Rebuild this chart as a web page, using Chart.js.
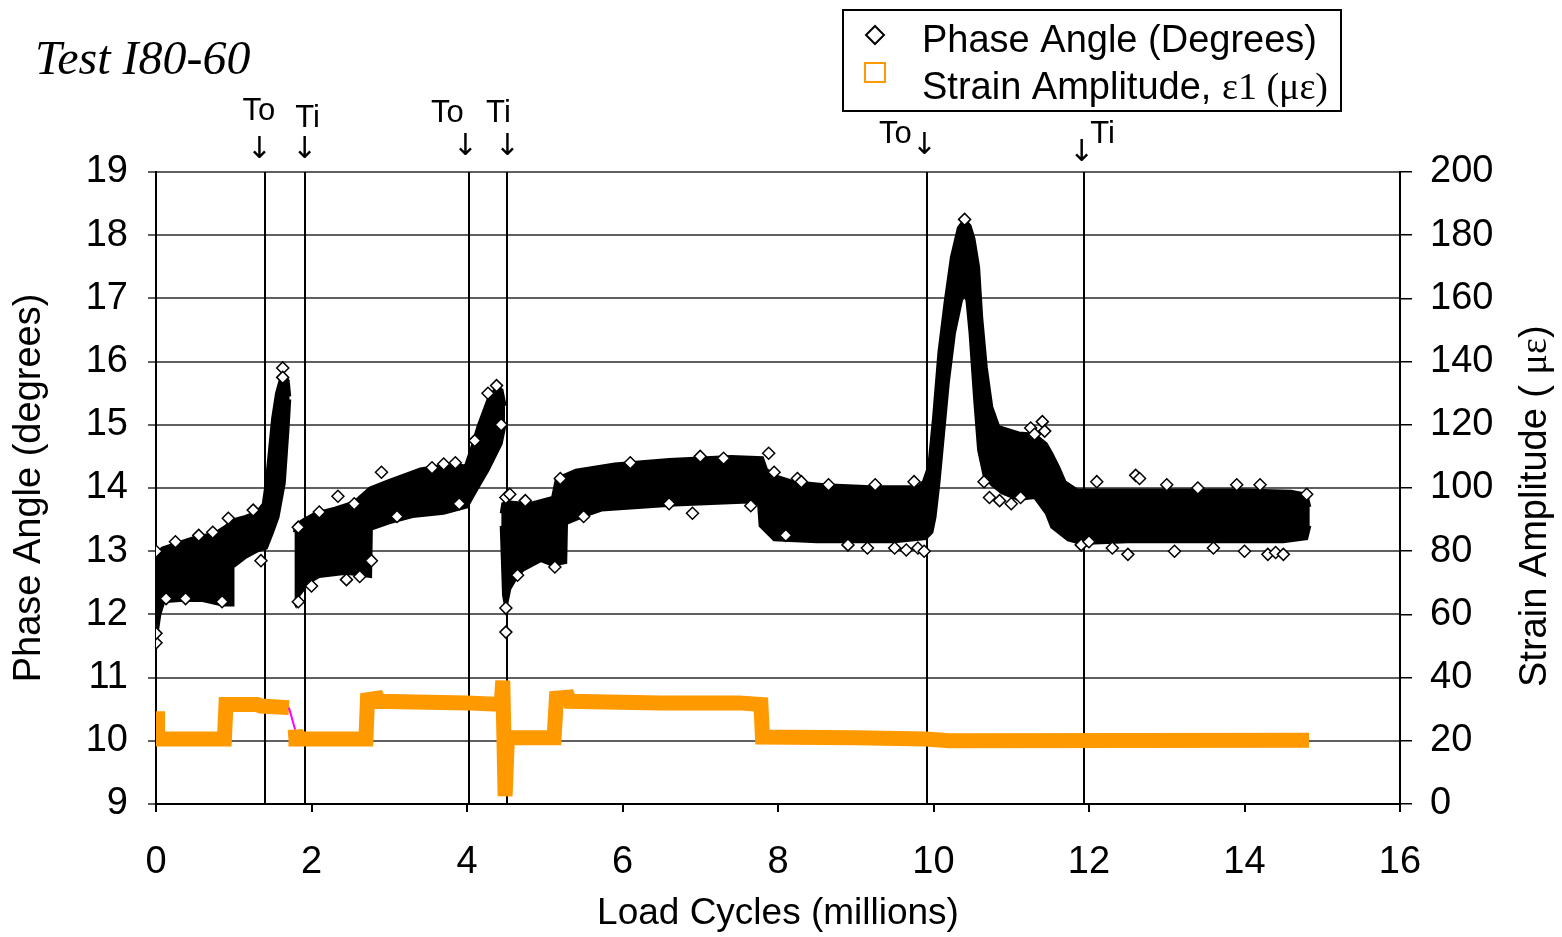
<!DOCTYPE html>
<html><head><meta charset="utf-8">
<script src="https://cdn.jsdelivr.net/npm/chart.js@4.4.1/dist/chart.umd.min.js"></script>
<style>html,body{margin:0;padding:0;background:#fff}#wrap{width:1562px;height:937px;position:relative}canvas{display:block}</style>
</head><body><div id="wrap"><canvas id="c" width="1562" height="937"></canvas></div>
<script>
// ---------- DATA ----------
const xTickValues = [0, 2, 4, 6, 8, 10, 12, 14, 16];
const phaseTickValues = [9, 10, 11, 12, 13, 14, 15, 16, 17, 18, 19];
const strainTickValues = [0, 20, 40, 60, 80, 100, 120, 140, 160, 180, 200];

// Phase angle scatter cloud: upper / lower envelopes of the dense marker band (millions, degrees)
const phaseUpper1 = [[0,12.95],[0.08,13.05],[0.25,13.12],[0.5,13.22],[0.75,13.28],[0.9,13.4],[1.0,13.5],[1.15,13.55],[1.3,13.62],[1.38,13.75],[1.42,14.1],[1.46,14.6],[1.5,15.1],[1.55,15.5],[1.6,15.72],[1.65,15.78],[1.7,15.7],[1.72,15.45]];
const phaseLower1 = [[0,11.6],[0.02,11.75],[0.05,12.0],[0.1,12.2],[0.3,12.22],[0.6,12.22],[0.85,12.15],[0.98,12.15],[0.99,12.75],[1.15,12.9],[1.3,13.0],[1.42,13.05],[1.5,13.3],[1.57,13.54],[1.65,14.08],[1.7,14.97],[1.72,15.4]];
const phaseUpper2 = [[1.78,13.3],[1.8,13.42],[1.9,13.5],[2.05,13.6],[2.3,13.68],[2.55,13.78],[2.75,14.0],[3.0,14.12],[3.4,14.3],[3.8,14.38],[3.98,14.35],[4.05,14.6],[4.14,14.97],[4.27,15.4],[4.38,15.6],[4.45,15.55],[4.49,15.3]];
const phaseLower2 = [[1.78,12.2],[1.8,12.15],[1.84,12.3],[1.96,12.5],[2.1,12.6],[2.45,12.65],[2.76,12.6],[2.77,13.35],[3.0,13.45],[3.3,13.55],[3.7,13.6],[4.0,13.7],[4.1,13.92],[4.27,14.28],[4.44,14.7],[4.49,15.0]];
const phaseUpper3 = [[4.44,13.6],[4.46,13.75],[4.55,13.78],[4.8,13.75],[5.1,13.85],[5.15,14.15],[5.4,14.28],[5.9,14.38],[6.6,14.45],[7.4,14.5],[7.8,14.48],[7.85,14.3],[7.95,14.2],[8.2,14.1],[8.6,14.05],[9.2,14.02],[9.8,14.02],[9.87,14.1],[9.94,14.35],[10.0,15.1],[10.07,16.15],[10.15,16.95],[10.23,17.65],[10.32,18.12],[10.4,18.25],[10.47,18.15],[10.52,17.95],[10.58,17.5],[10.62,16.7],[10.68,15.9],[10.75,15.28],[10.84,14.97],[11.1,14.87],[11.3,14.85],[11.45,14.7],[11.52,14.55],[11.61,14.33],[11.69,14.1],[11.85,13.97],[12.2,13.97],[13.0,13.97],[14.0,13.97],[14.6,13.95],[14.8,13.9],[14.84,13.7]];
const phaseLower3 = [[4.44,13.4],[4.47,12.3],[4.5,12.1],[4.55,12.4],[4.62,12.55],[4.72,12.7],[4.95,12.85],[5.1,12.78],[5.27,12.82],[5.28,13.44],[5.5,13.55],[5.73,13.65],[6.67,13.73],[7.62,13.78],[7.75,13.75],[7.77,13.4],[7.95,13.18],[8.5,13.15],[9.5,13.15],[9.9,13.2],[9.98,13.3],[10.02,13.54],[10.07,14.08],[10.13,14.87],[10.19,15.66],[10.27,16.45],[10.36,16.97],[10.4,17.05],[10.43,16.97],[10.47,16.45],[10.53,15.39],[10.58,14.6],[10.65,14.2],[10.75,14.05],[10.88,13.92],[11.09,13.82],[11.3,13.85],[11.45,13.6],[11.52,13.38],[11.73,13.18],[11.9,13.12],[12.5,13.15],[13.5,13.15],[14.5,13.15],[14.8,13.2],[14.84,13.4]];
// individually visible phase-angle markers around the band
const phaseOutliers = [[0,13.0],[0,11.55],[0,11.7],[0.13,12.25],[0.25,13.15],[0.38,12.25],[0.55,13.25],[0.73,13.3],[0.85,12.2],[0.93,13.52],[1.25,13.65],[1.35,12.85],[1.63,15.9],[1.63,15.75],
[1.83,13.38],[1.83,12.2],[2.0,12.45],[2.1,13.62],[2.34,13.87],[2.45,12.55],[2.55,13.75],[2.62,12.6],[2.77,12.85],[2.9,14.25],[3.1,13.55],[3.55,14.32],[3.7,14.38],[3.85,14.4],[3.9,13.75],[4.1,14.75],[4.27,15.5],[4.38,15.62],[4.44,15.0],
[4.5,11.72],[4.5,12.1],[4.5,13.85],[4.55,13.9],[4.65,12.62],[4.75,13.8],[5.13,12.75],[5.2,14.15],[5.5,13.55],[6.1,14.4],[6.6,13.75],[6.9,13.6],[7.0,14.5],[7.3,14.47],[7.65,13.72],[7.88,14.55],[7.95,14.25],[8.1,13.25],[8.25,14.15],[8.3,14.1],[8.65,14.05],[8.9,13.1],[9.15,13.05],[9.25,14.05],[9.5,13.05],[9.65,13.02],[9.75,14.1],[9.8,13.05],[9.88,13.0],
[10.4,18.25],[10.65,14.1],[10.72,13.85],[10.85,13.8],[11.0,13.75],[11.12,13.85],[11.25,14.95],[11.3,14.85],[11.4,15.05],[11.43,14.9],[11.9,13.1],[12.0,13.15],
[12.1,14.1],[12.3,13.05],[12.5,12.95],[12.6,14.2],[12.65,14.15],[13.0,14.05],[13.1,13.0],[13.4,14.0],[13.6,13.05],[13.9,14.05],[14.0,13.0],[14.3,12.95],[14.4,12.98],[14.5,12.95],[14.2,14.05],[14.8,13.9]];

// Strain amplitude (micro-strain), right axis
const strainData = [[0,27],[0.02,27],[0.02,20.6],[0.88,20.6],[0.9,31.5],[1.3,31.5],[1.35,31],[1.71,30.5],[1.79,23.5],[1.8,20.6],[2.7,20.6],[2.72,33],[2.85,33.5],[2.87,32.5],[4.0,32],[4.44,31.5],[4.46,39],[4.49,2.5],[4.52,21],[5.12,21],[5.15,33.5],[5.3,33.8],[5.32,32.5],[6.5,32],[7.5,32],[7.78,31.5],[7.8,21.2],[9.0,21],[9.9,20.6],[10.2,20],[14.83,20.2]];
const strainGap = [1.71, 1.79]; // no markers here: only the connecting line shows

// To / Ti markers
const refLineX = [1.40, 1.91, 4.03, 4.52, 9.92, 11.93];
const refLabels = ['To', 'Ti', 'To', 'Ti', 'To', 'Ti'];

const seriesNames = ['Phase Angle (Degrees)', 'Strain Amplitude, '];
const seriesNameSerif = 'ε1 (με)';
const chartTitle = 'Test I80-60';
const xTitle = 'Load Cycles (millions)';
const yTitle = 'Phase Angle (degrees)';
const y2Title = ['Strain Amplitude ( ', 'με', ')'];

// ---------- STYLE / LAYOUT ----------
const SANS = '"Liberation Sans", Arial, sans-serif';
const SERIF = '"Liberation Serif", "Times New Roman", serif';
const ORANGE = '#FF9900';
const GRID = '#606060';
// [text dx, text y, arrow dx, arrow y] relative to each reference line
const annotLayout = [[-6,111,-5.5,150],[3,118,0,150],[-22,113,-4,147],[-9,113,0,147],[-32,134,-3,146],[19,134,-2,153]];

const toXY = a => a.map(p => ({x: p[0], y: p[1]}));

const bandSet = (data, fillNext) => ({
  type: 'line', data: toXY(data), yAxisID: 'y', borderColor: '#000', borderWidth: 3,
  backgroundColor: '#000', pointRadius: 0, fill: fillNext ? '+1' : false, tension: 0
});

const overlay = {
  id: 'overlay',
  beforeDatasetsDraw(chart) {
    const {ctx, chartArea: a, scales: {x}} = chart;
    ctx.save();
    ctx.strokeStyle = '#000'; ctx.lineWidth = 2;
    refLineX.forEach(v => {
      const px = Math.round(x.getPixelForValue(v));
      ctx.beginPath(); ctx.moveTo(px, a.top); ctx.lineTo(px, a.bottom); ctx.stroke();
    });
    ctx.restore();
  },
  afterDraw(chart) {
    const {ctx, scales: {x}} = chart;
    ctx.save();
    ctx.fillStyle = '#000';
    ctx.font = 'italic 48px ' + SERIF;
    ctx.textAlign = 'left'; ctx.textBaseline = 'alphabetic';
    ctx.fillText(chartTitle, 35, 74);
    refLineX.forEach((v, i) => {
      const px = x.getPixelForValue(v);
      const L = annotLayout[i];
      ctx.textAlign = 'center'; ctx.textBaseline = 'middle';
      ctx.font = '31px ' + SANS;
      ctx.fillText(refLabels[i], px + L[0], L[1]);
      ctx.font = '30px "DejaVu Sans", ' + SANS;
      ctx.fillText('\u2193', px + L[2], L[3]);
    });
    ctx.fillStyle = '#fff';
    ctx.fillRect(843, 10, 498, 101);
    ctx.strokeStyle = '#000'; ctx.lineWidth = 2;
    ctx.strokeRect(843, 10, 498, 101);
    ctx.beginPath();
    ctx.moveTo(875, 26); ctx.lineTo(884, 35); ctx.lineTo(875, 44); ctx.lineTo(866, 35); ctx.closePath();
    ctx.lineWidth = 2; ctx.strokeStyle = '#000'; ctx.stroke();
    ctx.strokeStyle = ORANGE; ctx.lineWidth = 2;
    ctx.strokeRect(865, 63, 20, 19);
    ctx.fillStyle = '#000';
    ctx.textAlign = 'left'; ctx.textBaseline = 'alphabetic';
    ctx.font = '38px ' + SANS;
    ctx.fillText(seriesNames[0], 922, 52);
    ctx.fillText(seriesNames[1], 922, 99);
    const w1 = ctx.measureText(seriesNames[1]).width;
    ctx.font = '38px ' + SERIF;
    ctx.fillText(seriesNameSerif, 922 + w1, 99);
    ctx.translate(1536, 687);
    ctx.rotate(-Math.PI / 2);
    ctx.textBaseline = 'middle';
    ctx.font = '38px ' + SANS;
    let cx = 0;
    ctx.fillText(y2Title[0], cx, 0); cx += ctx.measureText(y2Title[0]).width;
    ctx.font = '38px ' + SERIF;
    ctx.fillText(y2Title[1], cx, 0); cx += ctx.measureText(y2Title[1]).width;
    ctx.font = '38px ' + SANS;
    ctx.fillText(y2Title[2], cx, 0);
    ctx.restore();
  }
};

const chart = new Chart(document.getElementById('c'), {
  type: 'line',
  data: {
    datasets: [
      { type: 'line', label: seriesNames[0], data: toXY(phaseOutliers), yAxisID: 'y', showLine: false,
        pointStyle: 'rectRot', pointRadius: 6, pointBorderColor: '#000', pointBackgroundColor: '#fff', pointBorderWidth: 1.5 },
      bandSet(phaseUpper1, true), bandSet(phaseLower1, false),
      bandSet(phaseUpper2, true), bandSet(phaseLower2, false),
      bandSet(phaseUpper3, true), bandSet(phaseLower3, false),
      { type: 'line', label: seriesNames[1], data: toXY(strainData), yAxisID: 'y2', borderColor: ORANGE,
        borderWidth: 15, pointRadius: 0, fill: false, tension: 0, borderCapStyle: 'butt', borderJoinStyle: 'miter',
        segment: {
          borderColor: c => (strainData[c.p0DataIndex][0] >= strainGap[0] && strainData[c.p1DataIndex][0] <= strainGap[1]) ? '#FF00FF' : undefined,
          borderWidth: c => (strainData[c.p0DataIndex][0] >= strainGap[0] && strainData[c.p1DataIndex][0] <= strainGap[1]) ? 2 : undefined
        } }
    ]
  },
  options: {
    responsive: false, animation: false, events: [],
    layout: { padding: { top: 172, left: 0, right: 0, bottom: 0 } },
    plugins: { legend: { display: false }, tooltip: { enabled: false } },
    scales: {
      x: {
        type: 'linear', min: 0, max: 16,
        afterBuildTicks: s => { s.ticks = xTickValues.map(v => ({value: v})); },
        afterFit: s => { s.height = 133; },
        grid: { drawOnChartArea: false, drawTicks: true, tickLength: 8, color: '#000', lineWidth: 2 },
        border: { color: '#000', width: 2 },
        ticks: { color: '#000', font: { family: SANS, size: 38 }, padding: 28, maxRotation: 0 },
        title: { display: true, text: xTitle, color: '#000', font: { family: SANS, size: 37 }, padding: { top: 0, bottom: 1 } }
      },
      y: {
        type: 'linear', position: 'left', min: 9, max: 19,
        afterBuildTicks: s => { s.ticks = phaseTickValues.map(v => ({value: v})); },
        afterFit: s => { s.width = 156; },
        grid: { color: GRID, lineWidth: 2, tickLength: 8 },
        border: { color: '#000', width: 2 },
        ticks: { color: '#000', font: { family: SANS, size: 38 }, padding: 20 },
        title: { display: true, text: yTitle, color: '#000', font: { family: SANS, size: 38 }, padding: { top: 7, bottom: 0 } }
      },
      y2: {
        type: 'linear', position: 'right', min: 0, max: 200,
        afterBuildTicks: s => { s.ticks = strainTickValues.map(v => ({value: v})); },
        afterFit: s => { s.width = 162; },
        grid: { drawOnChartArea: false, color: '#000', lineWidth: 1.5, tickLength: 12 },
        border: { color: '#000', width: 2 },
        ticks: { color: '#000', font: { family: SANS, size: 38 }, padding: 18 }
      }
    }
  },
  plugins: [overlay]
});
</script></body></html>
